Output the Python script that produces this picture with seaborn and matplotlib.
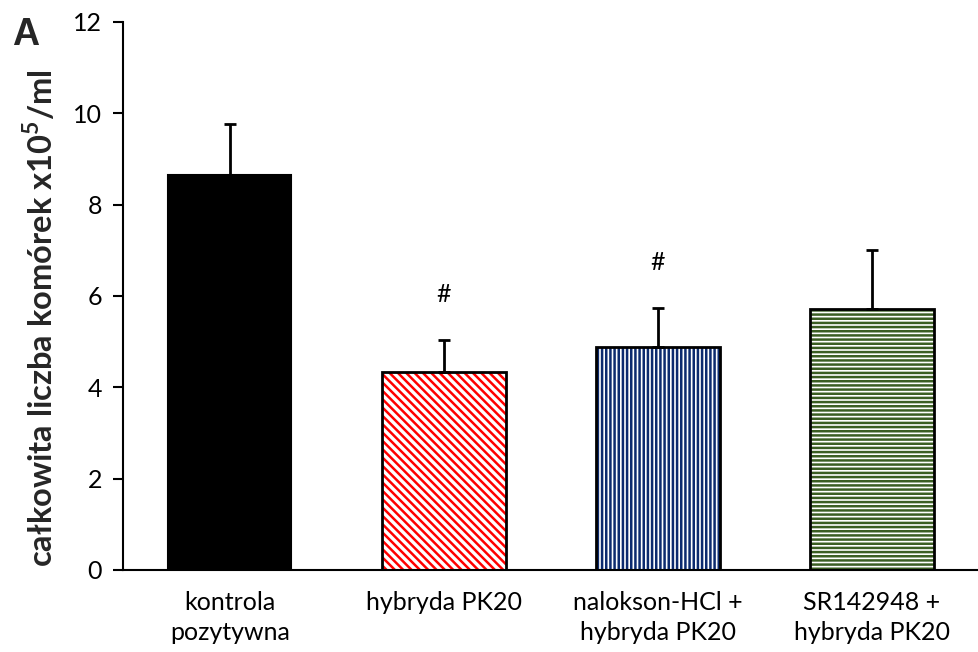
import matplotlib
matplotlib.use("Agg")
import matplotlib.pyplot as plt
from matplotlib.patches import Rectangle
import numpy as np
import pandas as pd
import seaborn as sns

# values
groups = ["kontrola\npozytywna", "hybryda PK20", "nalokson-HCl +\nhybryda PK20", "SR142948 +\nhybryda PK20"]
means = [8.65, 4.33, 4.88, 5.71]
errors = [1.12, 0.71, 0.86, 1.30]
signif = ["", "#", "#", ""]

colors = ["black", "#ff0000", "#0c2a6e", "#3b5e23"]
hatches = [None, "\\\\\\\\", "||||", "----"]

sns.set_theme(style="ticks")
plt.rcParams["font.family"] = ["Lato", "DejaVu Sans"]
plt.rcParams["mathtext.fontset"] = "custom"
plt.rcParams["mathtext.bf"] = "Lato:bold"
plt.rcParams["mathtext.rm"] = "Lato"
plt.rcParams["hatch.linewidth"] = 1.8

df = pd.DataFrame({"group": groups, "value": means})

fig = plt.figure(figsize=(9.79, 6.52), dpi=100)
ax = fig.add_axes([0.1256, 0.1258, 0.8744, 0.8405])

sns.barplot(data=df, x="group", y="value", order=groups, errorbar=None,
            width=0.575, color="white", saturation=1, ax=ax)

for p, c, h in zip(ax.patches, colors, hatches):
    if h is None:
        p.set_facecolor(c)
        p.set_edgecolor("black")
        p.set_linewidth(1.5)
    else:
        p.set_facecolor("white")
        p.set_edgecolor(c)
        p.set_hatch(h)
        p.set_linewidth(0)
        ax.add_patch(Rectangle((p.get_x(), p.get_y()), p.get_width(), p.get_height(),
                               facecolor="none", edgecolor="black", linewidth=2, zorder=3))

xs = np.arange(len(groups))
ax.errorbar(xs, means, yerr=[np.zeros(len(errors)), errors], fmt="none",
            ecolor="black", elinewidth=2, capsize=4, capthick=2, zorder=2)

for x, m, e, s in zip(xs, means, errors, signif):
    if s:
        ax.text(x, m + e + 1.0, s, ha="center", va="center", fontsize=18, color="black")

ax.set_xlim(-0.5, 3.5)
ax.set_ylim(0, 12)
ax.set_yticks(range(0, 13, 2))
ax.set_xlabel("")
ax.set_ylabel("całkowita liczba komórek x10$^{\\mathbf{5}}$/ml", fontsize=23.5, fontweight="bold")
ax.tick_params(axis="y", direction="out", length=7, width=1.5, labelsize=18, pad=8, colors="black")
ax.tick_params(axis="x", length=0, labelsize=18, pad=15, colors="black")
for lab in ax.get_xticklabels():
    lab.set_linespacing(1.4)
sns.despine(ax=ax)
ax.spines["left"].set_linewidth(1.5)
ax.spines["bottom"].set_linewidth(1.5)
ax.spines["left"].set_color("black")
ax.spines["bottom"].set_color("black")
ax.yaxis.set_label_coords(-0.076, 0.46)

fig.text(0.026, 0.946, "A", fontsize=27, fontweight="bold", ha="center", va="center",
         family=["Liberation Sans", "DejaVu Sans"])

fig.savefig("out.png", dpi=100)
